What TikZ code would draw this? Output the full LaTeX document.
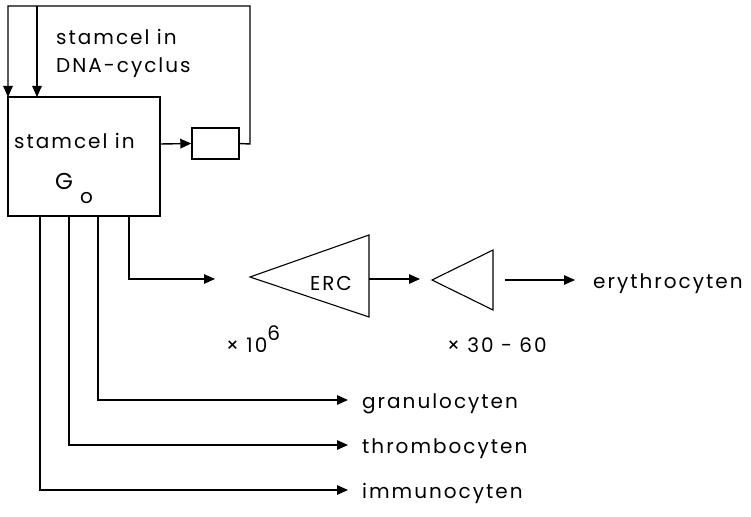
\documentclass[tikz,border=0pt]{standalone}
\usepackage{fontspec}
\usetikzlibrary{arrows.meta}
\newfontfamily\lblfont[LetterSpace=10]{Poppins}
\begin{document}
\begin{tikzpicture}[x=1pt,y=-1pt,
  line/.style={line width=1.4pt,line join=miter},
  arr/.style={line,-{Triangle[length=11pt,width=9.5pt]}},
  lbl/.style={inner sep=0pt,font=\lblfont\fontsize{20}{22}\selectfont},
  boxst/.style={draw,line width=1.4pt,inner sep=0pt}]
\useasboundingbox (0,0) rectangle (751,516);
% boxes
\node[boxst,minimum width=152pt,minimum height=119pt] (g0) at (84,156.5) {};
\node[boxst,minimum width=47pt,minimum height=31pt] (delay) at (215.5,143.5) {};
% top loop
\coordinate (lr) at (250,144);
\coordinate (tr) at (250,6);
\coordinate (tl) at (8,6);
\coordinate (t2) at (37,6);
\coordinate (g0a) at (8,97);
\coordinate (g0b) at (37,97);
\draw[arr] (delay.east) -- (lr) -- (tr) -- (tl) -- (g0a);
\draw[arr] (t2) -- (g0b);
\coordinate (g0e) at (160,144);
\draw[arr] (g0e) -- (delay.west);
% texts top
\node[lbl,anchor=base west] (t1) at (56,45) {stamcel in};
\node[lbl,anchor=base west] (t2l) at (56,73) {DNA-cyclus};
\node[lbl,anchor=base west] (t3) at (14,148) {stamcel in};
\node[lbl,anchor=base west,font=\lblfont\fontsize{23}{25}\selectfont] (tG) at (55,189) {G};
\node[lbl,anchor=base west] (to) at (80,203) {o};
% bottom branches
\coordinate (b1) at (129,216);
\coordinate (b1c) at (129,279);
\coordinate (b1e) at (215,279);
\draw[arr] (b1) -- (b1c) -- (b1e);
\coordinate (b2) at (98,216);
\coordinate (b2c) at (98,400);
\coordinate (b2e) at (348,400);
\draw[arr] (b2) -- (b2c) -- (b2e);
\coordinate (b3) at (69,216);
\coordinate (b3c) at (69,445);
\coordinate (b3e) at (348,445);
\draw[arr] (b3) -- (b3c) -- (b3e);
\coordinate (b4) at (40,216);
\coordinate (b4c) at (40,490);
\coordinate (b4e) at (348,490);
\draw[arr] (b4) -- (b4c) -- (b4e);
\node[lbl,anchor=base west] (gran) at (362,408) {granulocyten};
\node[lbl,anchor=base west] (thro) at (362,453) {thrombocyten};
\node[lbl,anchor=base west] (immu) at (362,498) {immunocyten};
% ERC triangle
\coordinate (e1) at (250,277);
\coordinate (e2) at (369,235);
\coordinate (e3) at (369,317);
\draw[line,line width=1.1pt] (e1) -- (e2) -- (e3) -- cycle;
\node[lbl,anchor=base] (erc) at (331,290) {ERC};
\coordinate (eo) at (369,279);
\coordinate (ei) at (420,279);
\draw[arr] (eo) -- (ei);
% small triangle
\coordinate (s1) at (432,280);
\coordinate (s2) at (493,250);
\coordinate (s3) at (493,310);
\draw[line,line width=1.1pt] (s1) -- (s2) -- (s3) -- cycle;
\coordinate (so) at (505,280);
\coordinate (se) at (575,280);
\draw[arr] (so) -- (se);
\node[lbl,anchor=base west] (ery) at (593,288) {erythrocyten};
% multipliers
\node[lbl,anchor=base west] (m1) at (226,352) {× 10\raisebox{12pt}{6}};
\node[lbl,anchor=base west] (m2) at (447,352) {× 30 - 60};
\end{tikzpicture}
\end{document}
